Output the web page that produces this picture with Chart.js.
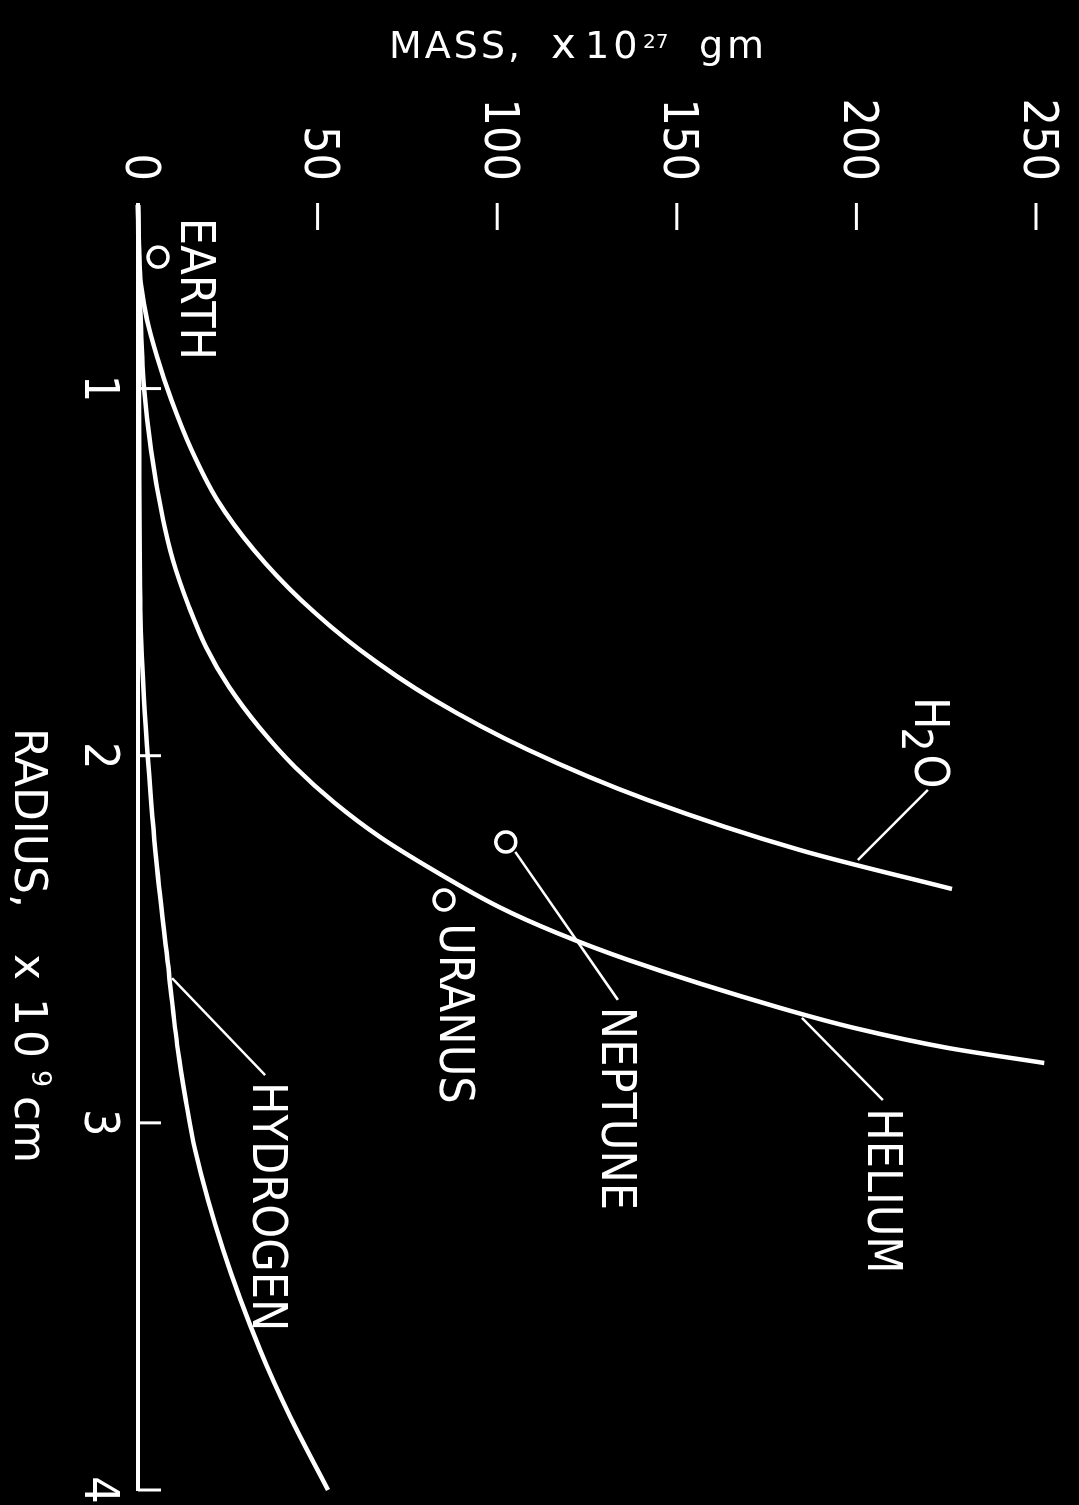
<!DOCTYPE html>
<html>
<head>
<meta charset="utf-8">
<title>Mass vs radius of cold spheres</title>
<script src="https://cdn.jsdelivr.net/npm/chart.js@4.4.1/dist/chart.umd.min.js"></script>
<style>
  html, body { margin: 0; padding: 0; background: #000; overflow: hidden; }
  body { width: 1079px; height: 1505px; position: relative; }
  /* the figure is printed turned a quarter turn clockwise */
  #wrap {
    position: absolute; left: 0; top: 0;
    width: 1505px; height: 1079px;
    transform-origin: 0 0;
    transform: translate(1079px, 0) rotate(90deg);
  }
  canvas { display: block; background: #000; }
</style>
</head>
<body>
<div id="wrap"><canvas id="massChart" width="1505" height="1079"></canvas></div>
<script>
// ── Data (radius in 10^9 cm, mass in 10^27 g) ──
const radiusTicks = [1, 2, 3, 4];
const massTicks = [0, 50, 100, 150, 200, 250];

const h2oRadius = [0.500, 0.623, 0.713, 0.813, 0.914, 1.031, 1.167, 1.304, 1.440, 1.576, 1.712, 1.848, 1.984, 2.121, 2.257, 2.363];
const h2oMass   = [0.0, 0.3, 0.8, 2.5, 5.3, 9.3, 14.9, 22.1, 32.3, 45.4, 61.8, 82.4, 108.6, 142.0, 184.3, 226.6];

const heliumRadius = [0.500, 0.759, 0.998, 1.167, 1.358, 1.467, 1.595, 1.704, 1.813, 1.922, 2.031, 2.129, 2.221, 2.311, 2.412, 2.483, 2.556, 2.687, 2.742, 2.796, 2.837];
const heliumMass   = [0.0, 0.6, 1.7, 3.6, 7.0, 9.7, 14.2, 18.9, 25.4, 33.7, 43.7, 54.8, 67.3, 82.1, 100.5, 116.7, 136.4, 178.8, 199.6, 225.5, 252.3];

const hydrogenRadius = [0.500, 1.031, 1.576, 1.848, 2.012, 2.284, 2.592, 2.802, 2.938, 3.074, 3.346, 3.619, 3.801, 4.000];
const hydrogenMass   = [0.0, 0.3, 0.6, 1.7, 2.8, 5.1, 8.6, 11.1, 13.3, 15.9, 23.7, 34.0, 42.4, 52.9];

const planetNames  = ['EARTH', 'URANUS', 'NEPTUNE'];
const planetRadius = [0.642, 2.393, 2.235];
const planetMass   = [5.6, 85.2, 102.4];

// ── Annotations (leader lines and names, placed in data units) ──
const leaders = [
    { r: [2.093, 2.284], m: [219.9, 200.4] },   // H2O
    { r: [2.714, 2.938], m: [184.8, 207.4] },   // helium
    { r: [2.262, 2.665], m: [105.0, 133.6] },   // neptune
    { r: [2.606, 2.870], m: [9.5, 35.4] }       // hydrogen
];
const names = [
    { text: 'EARTH', r: 0.535, m: 11.9 },
    { text: 'URANUS', r: 2.456, m: 84.0 },
    { text: 'NEPTUNE', r: 2.684, m: 129.2 },
    { text: 'HELIUM', r: 2.960, m: 203.2 },
    { text: 'HYDROGEN', r: 2.889, m: 32.1 }
];

const WHITE = '#ffffff';
const LABEL_FAMILY = "'DejaVu Sans Condensed', 'Liberation Sans Narrow', 'DejaVu Sans', sans-serif";
const TITLE_FAMILY = "'DejaVu Sans', 'Liberation Sans', sans-serif";

function pts(rs, ms) {
    return rs.map((r, i) => ({ x: r, y: ms[i] }));
}

function curve(label, rs, ms) {
    return {
        label: label,
        data: pts(rs, ms),
        showLine: true,
        borderColor: WHITE,
        borderWidth: 4.5,
        cubicInterpolationMode: 'monotone',
        pointRadius: 0,
        clip: false
    };
}

function strokeLine(ctx, x1, y1, x2, y2) {
    ctx.beginPath();
    ctx.moveTo(x1, y1);
    ctx.lineTo(x2, y2);
    ctx.stroke();
}

function drawPieces(ctx, pieces) {
    pieces.forEach(p => {
        ctx.font = p.font;
        ctx.letterSpacing = p.spacing || '0px';
        ctx.fillText(p.text, p.dx, p.dy || 0);
    });
    ctx.letterSpacing = '0px';
}

// labels hanging past the ends must not shrink the plot
function noOverhang(s) {
    s.paddingTop = 0;
    s.paddingBottom = 0;
    s.paddingLeft = 0;
    s.paddingRight = 0;
}

// ── Ticks, titles and names ──
const decorPlugin = {
    id: 'decor',
    afterDatasetsDraw(chart) {
        const { ctx, chartArea, scales: { x, y } } = chart;
        ctx.save();
        ctx.strokeStyle = WHITE;
        ctx.fillStyle = WHITE;
        ctx.lineWidth = 3;
        ctx.lineCap = 'butt';

        // mass ticks point into the plot from its left edge
        massTicks.slice(1).forEach(m => {
            const py = y.getPixelForValue(m);
            strokeLine(ctx, chartArea.left - 2, py, chartArea.left + 25, py);
        });
        // radius ticks point up from the axis
        radiusTicks.forEach(r => {
            const px = x.getPixelForValue(r);
            strokeLine(ctx, px, chartArea.bottom, px, chartArea.bottom - 23);
        });

        // names of curves and planets
        ctx.textAlign = 'left';
        ctx.textBaseline = 'alphabetic';
        ctx.font = '48px ' + LABEL_FAMILY;
        names.forEach(n => {
            ctx.fillText(n.text, x.getPixelForValue(n.r), y.getPixelForValue(n.m));
        });

        // H2O with a lowered 2
        ctx.save();
        ctx.translate(x.getPixelForValue(1.840), y.getPixelForValue(216.3));
        ctx.font = '48px ' + LABEL_FAMILY;
        const wH = ctx.measureText('H').width;
        ctx.font = '42px ' + LABEL_FAMILY;
        const w2 = ctx.measureText('2').width;
        drawPieces(ctx, [
            { text: 'H', dx: 0, font: '48px ' + LABEL_FAMILY },
            { text: '2', dx: wH - 2, dy: 13, font: '42px ' + LABEL_FAMILY },
            { text: 'O', dx: wH + w2 + 1, font: '48px ' + LABEL_FAMILY }
        ]);
        ctx.restore();

        // mass title, set along the left edge
        ctx.save();
        ctx.translate(58, 690);
        ctx.rotate(-Math.PI / 2);
        drawPieces(ctx, [
            { text: 'MASS,', dx: 0, font: '38px ' + TITLE_FAMILY, spacing: '3px' },
            { text: 'x', dx: 162, font: '42px ' + TITLE_FAMILY },
            { text: '10', dx: 196, font: '38px ' + TITLE_FAMILY, spacing: '4px' },
            { text: '27', dx: 254, dy: -10, font: '20px ' + TITLE_FAMILY },
            { text: 'gm', dx: 310, font: '38px ' + TITLE_FAMILY, spacing: '4px' }
        ]);
        ctx.restore();

        // radius title under the axis
        ctx.save();
        ctx.translate(728, 1064);
        drawPieces(ctx, [
            { text: 'RADIUS,', dx: 0, font: '44px ' + TITLE_FAMILY },
            { text: 'x', dx: 226, font: '44px ' + TITLE_FAMILY },
            { text: '10', dx: 270, font: '44px ' + TITLE_FAMILY, spacing: '4px' },
            { text: '9', dx: 342, dy: -17, font: '27px ' + TITLE_FAMILY },
            { text: 'cm', dx: 368, font: '44px ' + TITLE_FAMILY }
        ]);
        ctx.restore();

        ctx.restore();
    }
};

const ctx = document.getElementById('massChart').getContext('2d');

new Chart(ctx, {
    type: 'scatter',
    data: {
        datasets: [
            curve('H2O', h2oRadius, h2oMass),
            curve('Helium', heliumRadius, heliumMass),
            curve('Hydrogen', hydrogenRadius, hydrogenMass),
            ...leaders.map((l, i) => ({
                label: 'leader ' + i,
                data: pts(l.r, l.m),
                showLine: true,
                borderColor: WHITE,
                borderWidth: 2.5,
                pointRadius: 0,
                clip: false
            })),
            {
                label: 'Planets',
                data: pts(planetRadius, planetMass),
                pointStyle: 'circle',
                pointRadius: 10,
                borderWidth: 3.5,
                borderColor: WHITE,
                backgroundColor: '#000',
                clip: false
            },
            {
                label: 'Planet centres',
                data: pts(planetRadius, planetMass),
                pointStyle: 'circle',
                pointRadius: 3.5,
                borderWidth: 0,
                backgroundColor: WHITE,
                clip: false
            }
        ]
    },
    options: {
        responsive: false,
        animation: false,
        devicePixelRatio: 1,
        layout: { autoPadding: false, padding: { top: 43, right: 15, bottom: 0, left: 0 } },
        plugins: {
            legend: { display: false },
            tooltip: { enabled: false }
        },
        scales: {
            x: {
                type: 'linear',
                position: 'bottom',
                min: 0.5,
                max: 4,
                afterBuildTicks: s => { s.ticks = radiusTicks.map(v => ({ value: v })); },
                afterFit: s => { s.height = 138; noOverhang(s); },
                grid: { display: false, drawTicks: false },
                border: { display: true, color: WHITE, width: 4 },
                ticks: {
                    color: WHITE,
                    padding: 17,
                    autoSkip: false,
                    maxRotation: 0,
                    font: { family: LABEL_FAMILY, size: 48, lineHeight: 1 }
                }
            },
            y: {
                type: 'linear',
                position: 'left',
                min: 0,
                max: 250,
                afterBuildTicks: s => { s.ticks = massTicks.map(v => ({ value: v })); },
                afterFit: s => { s.width = 205; noOverhang(s); },
                grid: { display: false, drawTicks: false },
                border: { display: false },
                ticks: {
                    color: WHITE,
                    padding: 24,
                    autoSkip: false,
                    font: { family: LABEL_FAMILY, size: 48, lineHeight: 1 }
                }
            }
        }
    },
    plugins: [decorPlugin]
});
</script>
</body>
</html>
